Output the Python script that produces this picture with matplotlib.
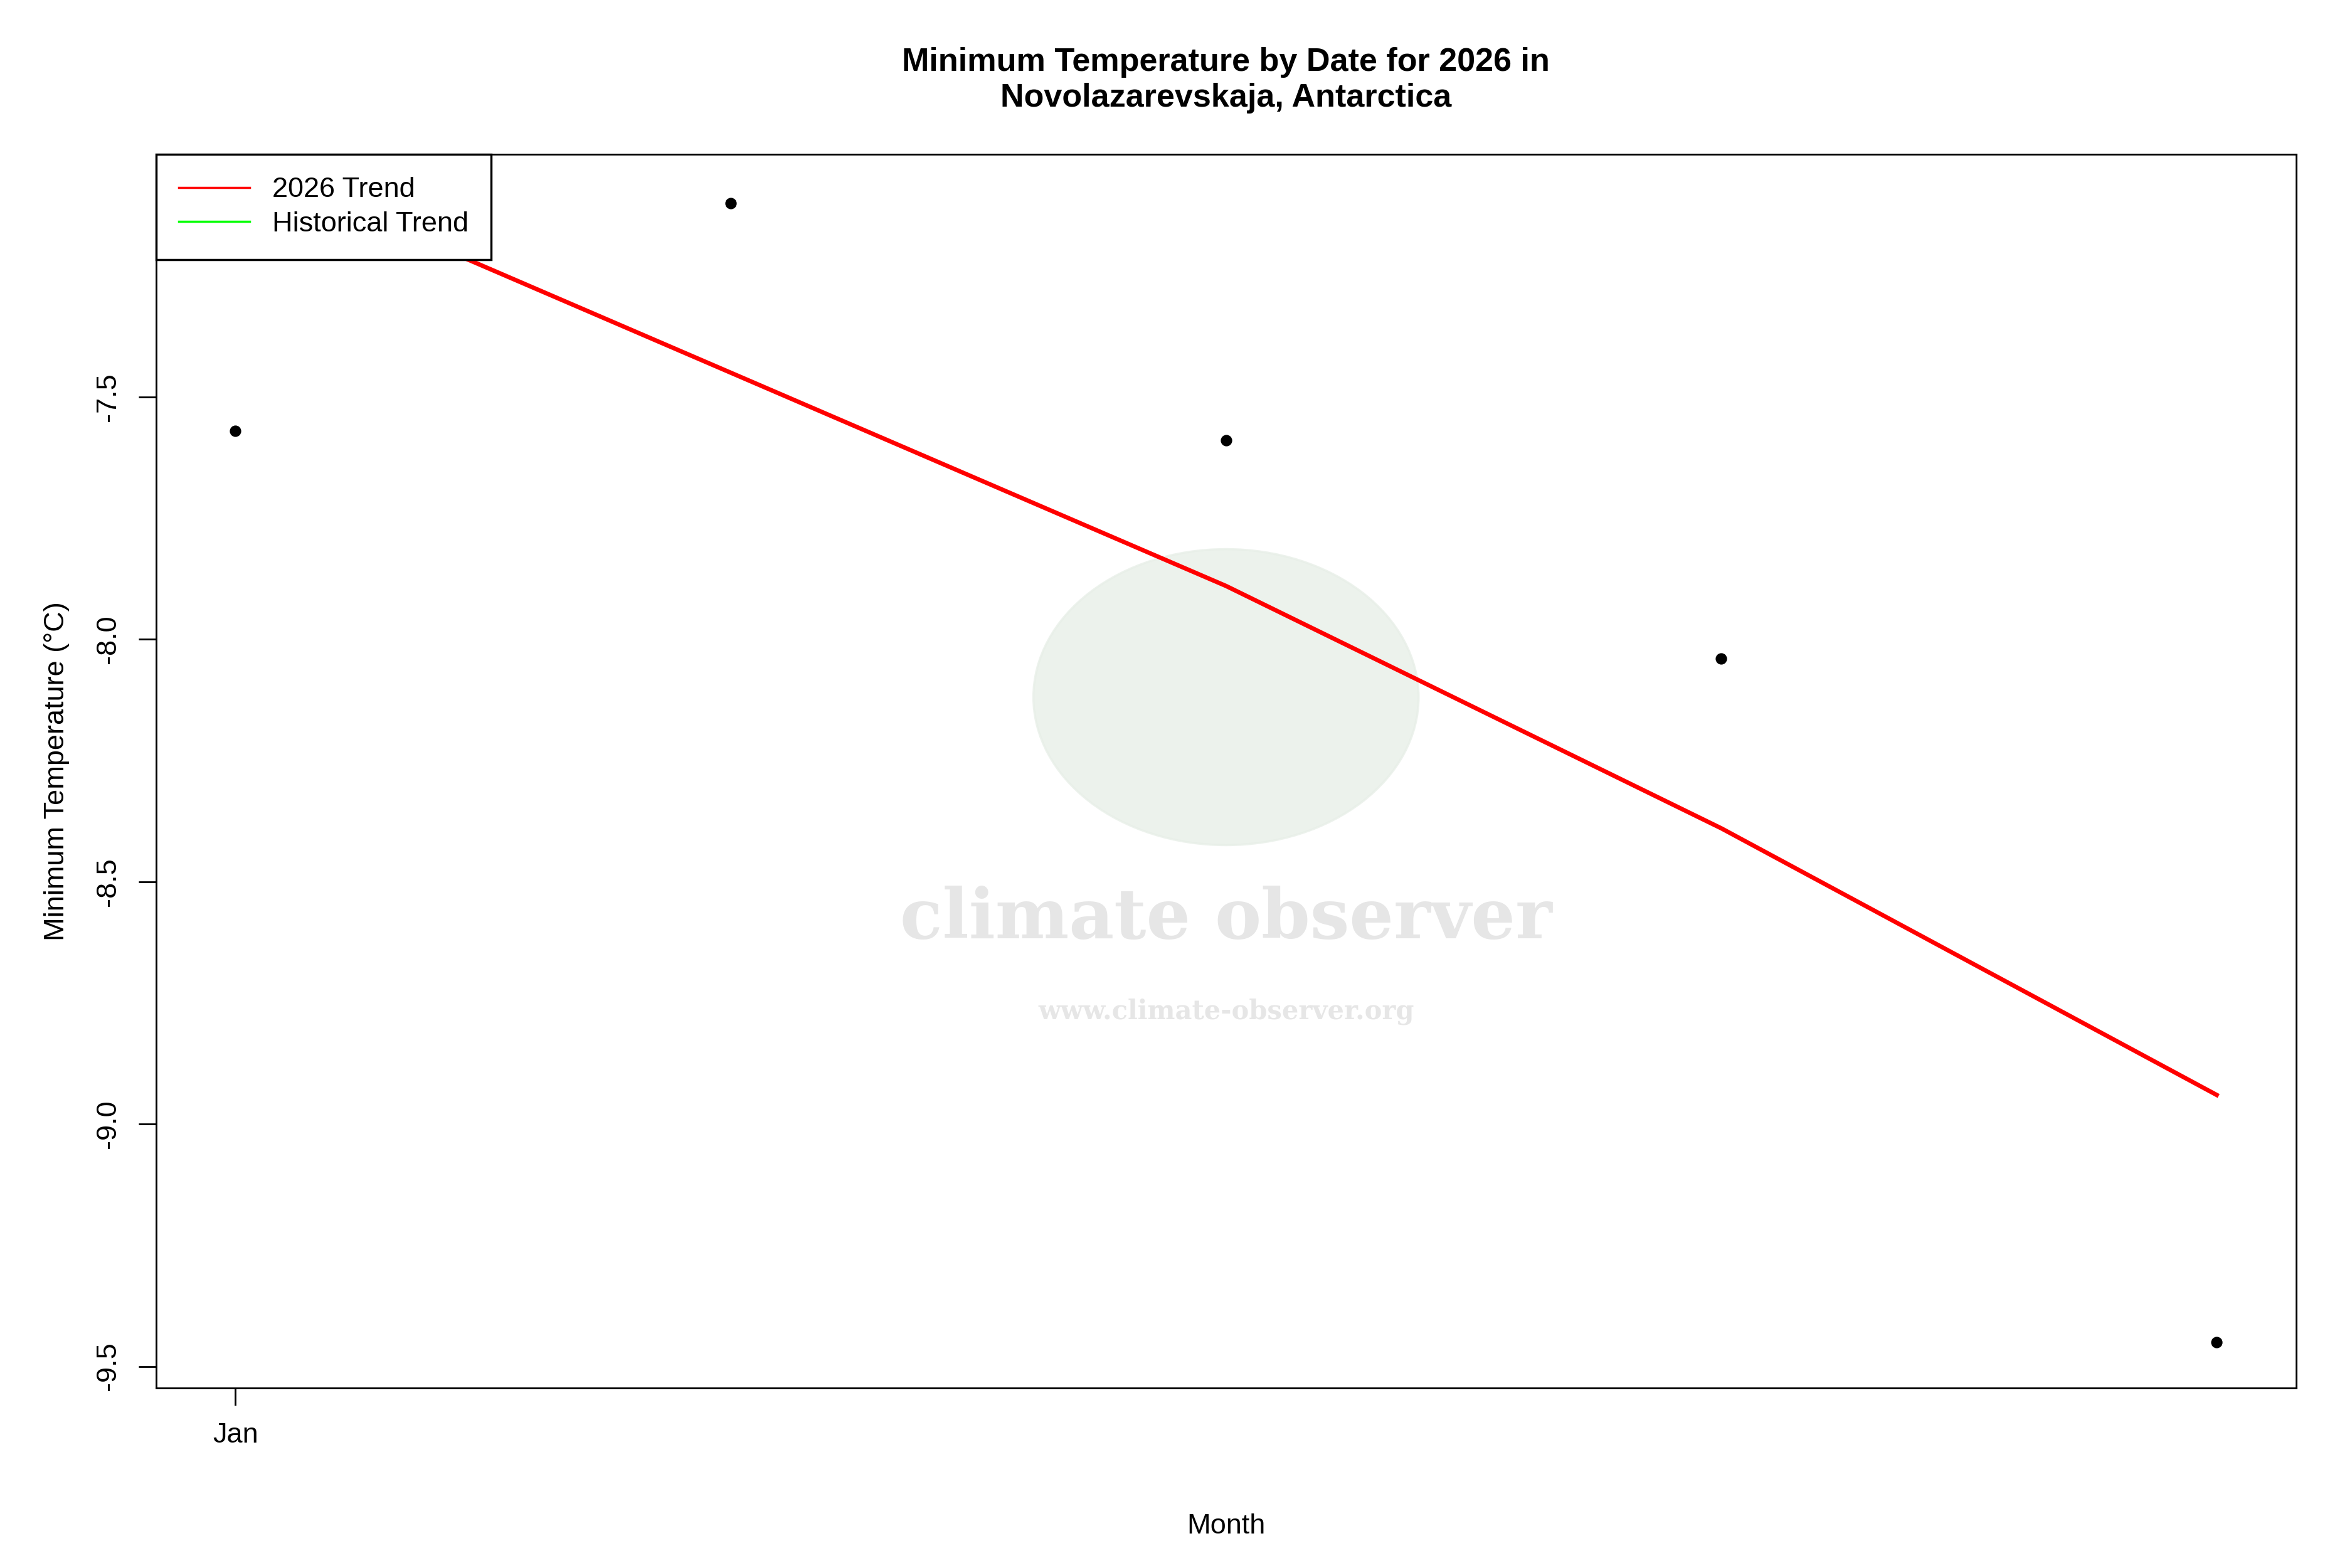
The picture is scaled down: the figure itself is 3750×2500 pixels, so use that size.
import matplotlib
matplotlib.use("Agg")
import matplotlib.pyplot as plt
from matplotlib.patches import Ellipse
from matplotlib.lines import Line2D

days = [1, 2, 3, 4, 5]
temps = [-7.57, -7.10, -7.59, -8.04, -9.45]
trend = [-7.01, -7.45, -7.89, -8.39, -8.94]
xticks = [1]
xticklabels = ["Jan"]
yticks = [-9.5, -9.0, -8.5, -8.0, -7.5]

plt.rcParams['font.family'] = ['Liberation Sans', 'DejaVu Sans']
fig = plt.figure(figsize=(15, 10), dpi=250)
ax = fig.add_axes([103/1552, 1-916/1035, (1515-103)/1552, (916-102)/1035])

# watermark
ax.add_patch(Ellipse((0.5, 0.56), 0.18, 0.24, transform=ax.transAxes, color='#e8efe8', alpha=0.8, zorder=0))
ax.text(0.5, 0.38, "climate observer", transform=ax.transAxes, ha='center', va='center',
        fontsize=32, fontweight='bold', color='#e6e6e6', family='DejaVu Serif', zorder=0)
ax.text(0.5, 0.305, "www.climate-observer.org", transform=ax.transAxes, ha='center', va='center',
        fontsize=12, fontweight='bold', color='#e6e6e6', family='DejaVu Serif', zorder=0)

ax.plot(days, trend, color='red', lw=2, zorder=2)
ax.scatter(days, temps, color='black', s=18, zorder=3)

ax.set_xlim(0.84, 5.16)
ax.set_ylim(-9.544, -7.0)
ax.set_xticks(xticks)
ax.set_xticklabels(xticklabels, fontsize=13)
ax.set_yticks(yticks)
ax.set_yticklabels([f"{v:.1f}" for v in yticks], fontsize=13, rotation=90, va='center')
ax.tick_params(length=8, pad=8)
ax.set_xlabel("Month", fontsize=13, labelpad=30)
ax.set_ylabel("Minimum Temperature (°C)", fontsize=13, labelpad=12)
ax.set_title("Minimum Temperature by Date for 2026 in\nNovolazarevskaja, Antarctica",
             fontsize=15, fontweight='bold', pad=22)
handles = [Line2D([], [], color='red', lw=1), Line2D([], [], color='#00ff00', lw=1)]
leg = ax.legend(handles, ['2026 Trend', 'Historical Trend'], loc='upper left', fontsize=13,
                frameon=True, fancybox=False, edgecolor='black', facecolor='white',
                framealpha=1, borderaxespad=0, handlelength=2.5, borderpad=0.8, labelspacing=0.3)
leg.get_frame().set_linewidth(1)
leg.set_zorder(5)
plt.savefig("out.png", dpi=250)
